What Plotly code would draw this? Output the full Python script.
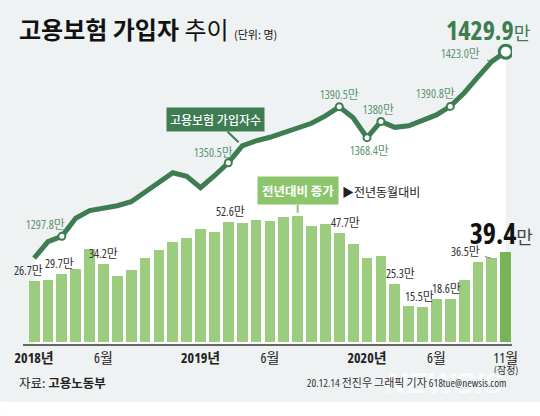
import plotly.graph_objects as go

# ---------------- data ----------------
months = list(range(35))  # 2018-01 .. 2020-11
tick_idx = [0, 5, 12, 17, 24, 29, 34]
tick_text = ["<b>2018년</b>", "6월", "<b>2019년</b>", "6월", "<b>2020년</b>", "6월", "11월"]
last_note = "(잠정)"

# 고용보험 가입자수 (만 명)
subscribers = [1282.2, 1294.0, 1297.8, 1310.8, 1316.2, 1317.6, 1319.7, 1322.6, 1329.7, 1336.2,
               1343.3, 1340.8, 1332.6, 1341.2, 1350.5, 1362.6, 1366.2, 1368.7, 1372.2, 1375.4,
               1378.7, 1384.0, 1390.5, 1382.6, 1368.4, 1380.0, 1375.8, 1376.9, 1380.4, 1384.7,
               1390.8, 1400.4, 1411.9, 1423.0, 1429.9]
# 전년동월대비 증가 (만 명)
increase = [26.7, 27.3, 29.7, 31.7, 40.5, 34.2, 28.9, 31.5, 36.9, 40.1,
            43.6, 45.3, 49.4, 47.9, 52.6, 51.9, 53.2, 53.1, 54.5, 55.2,
            50.6, 51.4, 47.7, 42.9, 36.9, 37.5, 25.3, 15.9, 15.5, 18.6,
            18.9, 27.0, 35.0, 36.5, 39.4]

line_label_idx = [2, 14, 22, 24, 25, 30, 33]
line_label_dec = [1, 1, 1, 1, 0, 1, 1]
bar_label_idx = [0, 2, 5, 14, 22, 26, 28, 29, 33]

# ---------------- style ----------------
W, H = 540, 416
L, R, T, B = 18, 28, 20, 72
PW, PH = W - L - R, H - T - B
BG = "#eef2f3"
DARK = "#3e7c52"
LBL = "#5e9470"
BAR = "#9ccc7e"
BAR_LAST = "#78b455"
NUM_FONT = "Open Sans, Noto Sans CJK KR, sans-serif"
KR_FONT = "Noto Sans CJK KR, sans-serif"


def px(x):
    return (x - L) / PW


def py(y):
    return (H - B - y) / PH


def nf(size, color, **kw):
    return dict(size=size, color=color, family=NUM_FONT, **kw)


fig = go.Figure()

# white area under the line + the line itself (main y axis)
fig.add_trace(go.Scatter(x=months, y=subscribers, mode="lines",
                         line=dict(color=DARK, width=5), fill="tozeroy",
                         fillcolor="white", hoverinfo="skip", yaxis="y"))
mk = line_label_idx[:-1]
fig.add_trace(go.Scatter(x=[months[i] for i in mk], y=[subscribers[i] for i in mk],
                         mode="markers", yaxis="y",
                         marker=dict(size=7, color="white", line=dict(color=DARK, width=2))))
fig.add_trace(go.Scatter(x=[months[-1]], y=[subscribers[-1]], mode="markers", yaxis="y",
                         marker=dict(size=13, color="white", line=dict(color=DARK, width=3))))

# bars (overlay axis)
colors = [BAR] * (len(months) - 1) + [BAR_LAST]
fig.add_trace(go.Bar(x=months, y=increase, marker=dict(color=colors, line=dict(width=0)),
                     width=0.78, yaxis="y2", hoverinfo="skip"))

ann = []
# line value labels
line_shift = {2: (-16, 12), 14: (-15, 10), 22: (0, 12), 24: (2, -13), 25: (-2, 12),
              30: (-15, 13), 33: (-31, 8)}
for i, d in zip(line_label_idx, line_label_dec):
    xs, ys = line_shift[i]
    a = dict(x=months[i], y=subscribers[i], xref="x", yref="y",
             text=f"{subscribers[i]:.{d}f}만", showarrow=False,
             xshift=xs, yshift=ys, font=nf(12, LBL))
    if i == 33:
        a.update(showarrow=True, ax=xs, ay=-ys, xshift=0, yshift=0,
                 arrowhead=0, arrowwidth=1, arrowcolor=LBL, standoff=2)
    ann.append(a)
# top value 1429.9만
ann.append(dict(x=months[-1], y=subscribers[-1], xref="x", yref="y",
                text=f"<b>{subscribers[-1]:.1f}</b><span style='font-size:18px;font-weight:400'>만</span>",
                showarrow=False, xanchor="right", xshift=33, yshift=22,
                font=nf(26, DARK)))

# bar labels
bar_shift = {0: -6, 2: -2, 5: 0, 14: 2, 22: 6, 26: 6, 28: -3, 29: 10, 33: -24}
for i in bar_label_idx:
    a = dict(x=months[i], y=increase[i], xref="x", yref="y2",
             text=f"{increase[i]:.1f}만", showarrow=False, yanchor="bottom",
             xshift=bar_shift[i], yshift=0, font=nf(12, "#333"))
    if i == 33:
        a.update(yshift=0, yanchor="middle", showarrow=True, ax=-26, ay=-7,
                 arrowhead=0, arrowwidth=1, arrowcolor="#777", xshift=0, standoff=1)
    ann.append(a)
ann.append(dict(x=months[-1], y=increase[-1], xref="x", yref="y2",
                text=f"<b>{increase[-1]:.1f}</b><span style='font-size:18px;color:#444;font-weight:400'>만</span>",
                showarrow=False, yanchor="bottom", xanchor="right", xshift=34, yshift=-2,
                font=nf(28, "#111")))

# callouts
ann.append(dict(x=months[15], y=subscribers[15], xref="x", yref="y",
                text="고용보험 가입자수", showarrow=True, ax=-27, ay=-26,
                arrowhead=0, arrowwidth=2, arrowcolor=DARK, standoff=5,
                bgcolor=DARK, borderpad=3,
                font=dict(size=12, color="white", family=KR_FONT, weight=500)))
ann.append(dict(x=months[19], y=increase[19], xref="x", yref="y2",
                text="전년대비 증가", showarrow=True, ax=0, ay=-25,
                arrowhead=0, arrowwidth=2, arrowcolor="#8cc56c", standoff=3,
                bgcolor="#8cc56c", borderpad=4,
                font=dict(size=12.5, color="white", family=KR_FONT, weight=700)))
ann.append(dict(x=months[19], y=increase[19], xref="x", yref="y2",
                text="▶전년동월대비", showarrow=False, xshift=83, yshift=24,
                font=dict(size=12, color="#222", family=KR_FONT)))

# provisional note under the last tick
ann.append(dict(x=months[-1], y=py(370), xref="x", yref="paper", yanchor="middle",
                text=last_note, showarrow=False, font=nf(10, "#333")))

# title & footer
ann.append(dict(x=px(12), y=py(28), xref="paper", yref="paper", xanchor="left", yanchor="middle",
                text="<b>고용보험 가입자</b> 추이 <span style='font-size:11px'>(단위: 명)</span>",
                showarrow=False, font=dict(size=24, color="#111", family=KR_FONT)))
ann.append(dict(x=px(12), y=py(382), xref="paper", yref="paper", xanchor="left", yanchor="middle",
                text="자료: <b>고용노동부</b>", showarrow=False,
                font=dict(size=12.5, color="#222", family=KR_FONT)))
ann.append(dict(x=px(505), y=py(382), xref="paper", yref="paper", xanchor="right", yanchor="middle",
                text="<b><i>NEWSIS</i></b>", showarrow=False,
                font=dict(size=30, color="rgba(255,255,255,0.75)", family="Liberation Sans, sans-serif")))
ann.append(dict(x=px(529), y=py(382), xref="paper", yref="paper", xanchor="right", yanchor="middle",
                text="20.12.14 전진우 그래픽 기자 618tue@newsis.com", showarrow=False,
                font=nf(11, "#333")))

fig.update_layout(
    width=W, height=H, margin=dict(l=L, r=R, t=T, b=B),
    paper_bgcolor=BG, plot_bgcolor=BG, showlegend=False,
    bargap=0,
    xaxis=dict(range=[-0.8, 34.45], tickvals=tick_idx, ticktext=tick_text,
               showgrid=False, zeroline=False, showline=True, linecolor="#666", linewidth=1.5,
               ticks="", tickfont=nf(14, "#222")),
    yaxis=dict(range=[1220.8, 1452.6], visible=False, fixedrange=True),
    yaxis2=dict(range=[-0.9, 140.8], visible=False, overlaying="y"),
    annotations=ann,
    shapes=[dict(type="rect", xref="paper", yref="paper", x0=px(-5), x1=px(W + 5),
                 y0=py(H + 5), y1=py(402), fillcolor="white", line=dict(width=0), layer="below")],
)

post = """
var s = document.createElement('style');
s.textContent = 'html,body{margin:0;padding:0;overflow:hidden} svg text{font-stretch:condensed !important}';
document.head.appendChild(s);
var gd = document.getElementById('{plot_id}');
Plotly.newPlot(gd, gd.data, gd.layout, {displayModeBar: false});
"""
fig.write_html("out.html", post_script=post, config={"displayModeBar": False})
